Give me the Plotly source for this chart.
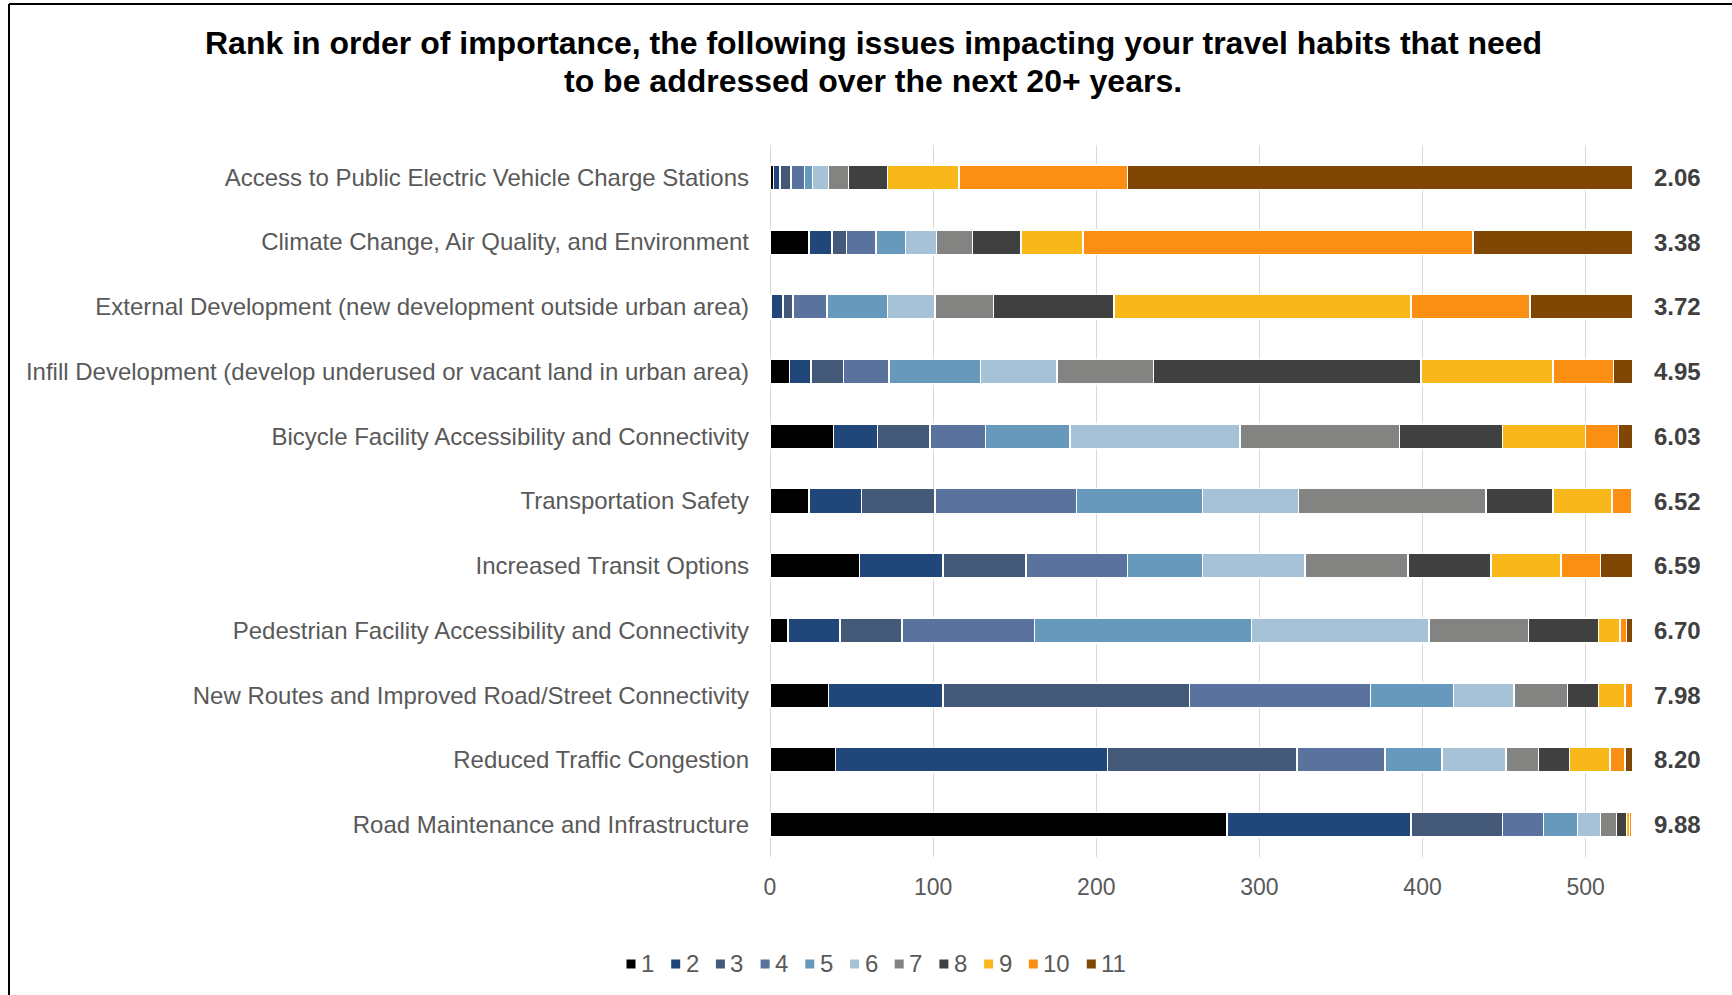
import plotly.graph_objects as go

# Issues, listed top to bottom
issues = [
    "Access to Public Electric Vehicle Charge Stations",
    "Climate Change, Air Quality, and Environment",
    "External Development (new development outside urban area)",
    "Infill Development (develop underused or vacant land in urban area)",
    "Bicycle Facility Accessibility and Connectivity",
    "Transportation Safety",
    "Increased Transit Options",
    "Pedestrian Facility Accessibility and Connectivity",
    "New Routes and Improved Road/Street Connectivity",
    "Reduced Traffic Congestion",
    "Road Maintenance and Infrastructure",
]

# Number of respondents giving each rank, per issue (same order as issues)
rank_1 = [2, 24, 1, 12, 39, 24, 55, 11, 36, 40, 280]
rank_2 = [4, 14, 7, 13, 27, 32, 51, 32, 70, 167, 113]
rank_3 = [7, 9, 6, 20, 32, 45, 51, 38, 151, 116, 56]
rank_4 = [8, 18, 21, 28, 34, 87, 62, 81, 111, 54, 25]
rank_5 = [5, 18, 37, 56, 52, 77, 46, 133, 51, 35, 21]
rank_6 = [10, 19, 29, 47, 104, 59, 63, 109, 37, 39, 14]
rank_7 = [12, 22, 36, 59, 98, 115, 63, 61, 33, 20, 10]
rank_8 = [24, 30, 74, 164, 63, 41, 51, 43, 19, 19, 6]
rank_9 = [44, 38, 182, 81, 51, 36, 43, 13, 16, 25, 2]
rank_10 = [103, 239, 73, 37, 20, 12, 24, 4, 5, 9, 1]
rank_11 = [310, 98, 63, 12, 9, 1, 20, 4, 0, 5, 1]

rank_labels = ["1", "2", "3", "4", "5", "6", "7", "8", "9", "10", "11"]
rank_series = [rank_1, rank_2, rank_3, rank_4, rank_5, rank_6,
               rank_7, rank_8, rank_9, rank_10, rank_11]

# Weighted importance score shown at the end of each bar
scores = [2.06, 3.38, 3.72, 4.95, 6.03, 6.52, 6.59, 6.70, 7.98, 8.20, 9.88]

x_ticks = [0, 100, 200, 300, 400, 500]

title_lines = [
    "Rank in order of importance, the following issues impacting your travel habits that need",
    "to be addressed over the next 20+ years.",
]

colors = ["#000000", "#21467A", "#445877", "#5A729E", "#6799BC", "#A5C2D6",
          "#838482", "#404040", "#F8B81A", "#FA8F13", "#804603"]

FONT = "Liberation Sans, Arial, sans-serif"
W, H = 1732, 995
L, R, T, B = 770, 99, 145, 138
PW, PH = W - L - R, H - T - B


def px_x(px):
    return (px - L) / PW


def px_y(py):
    return (H - B - py) / PH


totals = [sum(v) for v in zip(*rank_series)]

fig = go.Figure()
for label, values, color in zip(rank_labels, rank_series, colors):
    fig.add_trace(go.Bar(
        y=issues, x=values, name=label, orientation="h",
        marker=dict(color=color, line=dict(color="#FFFFFF", width=1.5)),
        showlegend=False,
    ))

# Score labels to the right of each bar
for issue, total, score in zip(issues, totals, scores):
    fig.add_annotation(
        x=total, y=issue, xref="x", yref="y", text=f"<b>{score:.2f}</b>",
        showarrow=False, xanchor="left", xshift=19,
        font=dict(family=FONT, size=24, color="#404040"),
    )

# Two-line title
for line, cy in zip(title_lines, [43, 81]):
    fig.add_annotation(
        x=px_x(873), y=px_y(cy), xref="paper", yref="paper",
        text=f"<b>{line}</b>", showarrow=False,
        xanchor="center", yanchor="middle",
        font=dict(family=FONT, size=32, color="#000000"),
    )

# Legend row drawn as coloured squares with rank numbers
cx = 631.0
leg_y = 964.0
for label, color in zip(rank_labels, colors):
    fig.add_shape(
        type="rect", xref="paper", yref="paper",
        x0=px_x(cx - 4.5), x1=px_x(cx + 4.5),
        y0=px_y(leg_y + 4.5), y1=px_y(leg_y - 4.5),
        fillcolor=color, line=dict(width=0),
    )
    fig.add_annotation(
        x=px_x(cx + 8), y=px_y(leg_y), xref="paper", yref="paper",
        text=label, showarrow=False, xanchor="left", yanchor="middle",
        font=dict(family=FONT, size=24, color="#595959"),
    )
    cx += 12.6 + 13.3 * len(label) + 18.8

# Chart frame (left and top edges)
fig.add_shape(type="line", xref="paper", yref="paper",
              x0=px_x(9), x1=px_x(W + 5), y0=px_y(4), y1=px_y(4),
              line=dict(color="#000000", width=2))
fig.add_shape(type="line", xref="paper", yref="paper",
              x0=px_x(9), x1=px_x(9), y0=px_y(4), y1=px_y(H + 5),
              line=dict(color="#000000", width=2))

fig.update_layout(
    width=W, height=H,
    margin=dict(l=L, r=R, t=T, b=B),
    barmode="stack", bargap=0.62,
    plot_bgcolor="#FFFFFF", paper_bgcolor="#FFFFFF",
    xaxis=dict(
        range=[0, max(totals)], tickvals=x_ticks, ticktext=[str(t) for t in x_ticks],
        showgrid=True, gridcolor="#D9D9D9", gridwidth=1,
        zeroline=True, zerolinecolor="#D9D9D9", zerolinewidth=1,
        showline=False, ticks="", ticklabelstandoff=14,
        tickfont=dict(family=FONT, size=23, color="#595959"),
    ),
    yaxis=dict(
        autorange="reversed", showgrid=False, zeroline=False, showline=False,
        ticks="", ticklabelstandoff=20,
        tickfont=dict(family=FONT, size=24, color="#595959"),
    ),
)

fig.write_html("out.html")
